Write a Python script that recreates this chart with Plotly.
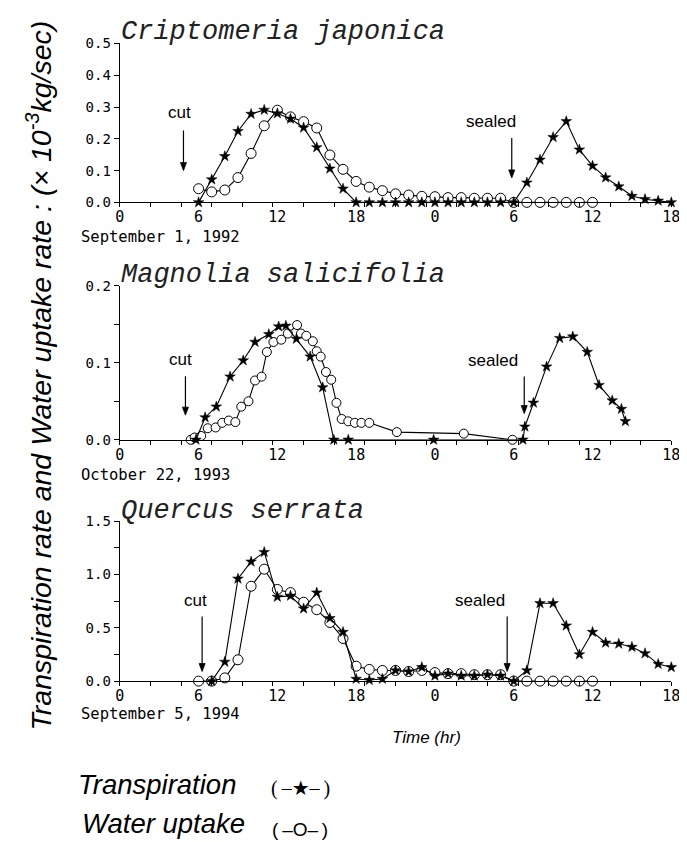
import plotly.graph_objects as go

W, H = 687, 842

# ---------------- data ----------------
# Panel 1: Criptomeria japonica (September 1, 1992)
p1_trans_hr = [6, 7, 8, 9, 10, 11, 12, 13, 14, 15, 16, 17, 18,
               19, 20, 21, 22, 23, 24, 25, 26, 27, 28, 29, 30,
               31, 32, 33, 34, 35, 36, 37, 38, 39, 40, 41, 42]
p1_trans = [0.0, 0.072, 0.145, 0.224, 0.278, 0.291, 0.280, 0.263, 0.235, 0.173, 0.106, 0.043, 0.0,
            0.0, 0.0, 0.0, 0.0, 0.0, 0.0, 0.0, 0.0, 0.0, 0.0, 0.0, 0.0,
            0.062, 0.134, 0.205, 0.255, 0.166, 0.115, 0.078, 0.050, 0.020, 0.010, 0.005, 0.0]
p1_up_hr = [6, 7, 8, 9, 10, 11, 12, 13, 14, 15, 16, 17, 18,
            19, 20, 21, 22, 23, 24, 25, 26, 27, 28, 29,
            30, 31, 32, 33, 34, 35, 36]
p1_up = [0.043, 0.033, 0.039, 0.078, 0.154, 0.241, 0.290, 0.269, 0.254, 0.234, 0.149, 0.104, 0.066,
         0.048, 0.037, 0.027, 0.023, 0.019, 0.018, 0.015, 0.015, 0.013, 0.013, 0.013,
         0.0, 0.0, 0.0, 0.0, 0.0, 0.0, 0.0]

# Panel 2: Magnolia salicifolia (October 22, 1993)
p2_trans_hr = [5.8, 6.5, 7.35, 8.4, 9.4, 10.3, 11.35, 12.1, 12.65, 13.45, 14.5, 15.45, 16.3, 17.4,
               23.9, 30.7, 30.85, 31.5, 32.5, 33.5, 34.5, 35.6, 36.5, 37.5, 38.2, 38.5]
p2_trans = [0.0, 0.029, 0.043, 0.082, 0.103, 0.127, 0.137, 0.147, 0.148, 0.131, 0.108, 0.068, 0.0, 0.0,
            0.0, 0.0, 0.017, 0.048, 0.095, 0.132, 0.134, 0.114, 0.071, 0.051, 0.040, 0.024]
p2_up_hr = [5.4, 5.7, 6.2, 6.7, 7.3, 7.8, 8.3, 8.8, 9.25, 9.8,
            10.3, 10.8, 11.2, 11.7, 12.3, 12.8, 13.5, 13.8, 14.2, 14.7,
            15.0, 15.3, 15.7, 16.1, 16.5, 16.9, 17.4, 17.9, 18.4, 19.0,
            21.1, 26.2, 29.9]
p2_up = [0.0, 0.003, 0.005, 0.015, 0.016, 0.022, 0.025, 0.023, 0.043, 0.050,
         0.077, 0.082, 0.114, 0.127, 0.130, 0.138, 0.149, 0.138, 0.135, 0.128,
         0.115, 0.108, 0.088, 0.078, 0.048, 0.027, 0.024, 0.022, 0.022, 0.022,
         0.010, 0.008, 0.0]

# Panel 3: Quercus serrata (September 5, 1994)
p3_trans_hr = [7, 8, 9, 10, 11, 12, 13, 14, 15, 16, 17, 18,
               19, 20, 21, 22, 23, 24, 25, 26, 27, 28, 29, 30,
               31, 32, 33, 34, 35, 36, 37, 38, 39, 40, 41, 42]
p3_trans = [0.0, 0.18, 0.96, 1.12, 1.21, 0.79, 0.80, 0.68, 0.83, 0.59, 0.46, 0.02,
            0.01, 0.02, 0.10, 0.09, 0.13, 0.05, 0.07, 0.05, 0.05, 0.06, 0.05, 0.0,
            0.10, 0.73, 0.73, 0.52, 0.25, 0.46, 0.36, 0.35, 0.32, 0.26, 0.16, 0.13]
p3_up_hr = [6, 7, 8, 9, 10, 11, 12, 13, 14, 15, 16, 17, 18,
            19, 20, 21, 22, 23, 24, 25, 26, 27, 28, 29,
            30, 31, 32, 33, 34, 35, 36]
p3_up = [0.0, 0.0, 0.03, 0.20, 0.89, 1.05, 0.86, 0.83, 0.74, 0.67, 0.55, 0.40, 0.14,
         0.11, 0.10, 0.10, 0.09, 0.10, 0.08, 0.07, 0.07, 0.06, 0.06, 0.06,
         0.0, 0.0, 0.0, 0.0, 0.0, 0.0, 0.0]

x_tick_vals = [0, 6, 12, 18, 24, 30, 36, 42]
x_tick_text = ["0", "6", "12", "18", "0", "6", "12", "18"]

species = ["Criptomeria japonica", "Magnolia salicifolia", "Quercus serrata"]
dates = ["September 1, 1992", "October 22, 1993", "September 5, 1994"]
y_ranges = [[0, 0.5], [0, 0.2], [0, 1.5]]
y_ticks = [[0.0, 0.1, 0.2, 0.3, 0.4, 0.5], [0.0, 0.1, 0.2], [0.0, 0.5, 1.0, 1.5]]
y_minor = [[], [0.05, 0.15], [0.25, 0.75, 1.25]]

# ---------------- layout helpers ----------------
def px_x(p):
    return p / W

def px_y(p):
    return 1 - p / H

X0, X1 = 109, 672
panel_px = [(28, 190), (275, 432), (515, 678)]   # (top, bottom) in pixels

MONO = "DejaVu Sans Mono, Liberation Mono, monospace"
SANS = "Liberation Sans, Arial, sans-serif"

fig = go.Figure()

series = [
    (p1_trans_hr, p1_trans, p1_up_hr, p1_up),
    (p2_trans_hr, p2_trans, p2_up_hr, p2_up),
    (p3_trans_hr, p3_trans, p3_up_hr, p3_up),
]
circle_sizes = [10, 9, 10]

minor_x = [i * 7 / 3 for i in range(19)]

for i, (th, tv, uh, uv) in enumerate(series):
    xa = "x" if i == 0 else f"x{i+1}"
    ya = "y" if i == 0 else f"y{i+1}"
    fig.add_trace(go.Scatter(
        x=uh, y=uv, xaxis=xa, yaxis=ya, mode="lines+markers",
        line=dict(color="black", width=1.1),
        marker=dict(symbol="circle", size=circle_sizes[i], color="white",
                    line=dict(color="black", width=1)),
        cliponaxis=False, showlegend=False, name="Water uptake"))
    fig.add_trace(go.Scatter(
        x=th, y=tv, xaxis=xa, yaxis=ya, mode="lines+markers",
        line=dict(color="black", width=1.1),
        marker=dict(symbol="star", size=8, color="black",
                    line=dict(color="black", width=0.5)),
        cliponaxis=False, showlegend=False, name="Transpiration"))

layout = dict(
    width=W, height=H, margin=dict(l=0, r=0, t=0, b=0),
    paper_bgcolor="white", plot_bgcolor="white", showlegend=False,
)

for i in range(3):
    top, bot = panel_px[i]
    xk = "xaxis" if i == 0 else f"xaxis{i+1}"
    yk = "yaxis" if i == 0 else f"yaxis{i+1}"
    ya = "y" if i == 0 else f"y{i+1}"
    xa = "x" if i == 0 else f"x{i+1}"
    layout[xk] = dict(
        domain=[px_x(X0), px_x(X1)], anchor=ya, range=[0, 42],
        showline=True, linecolor="black", linewidth=1.2, showgrid=False, zeroline=False,
        tickmode="array", tickvals=x_tick_vals, ticktext=x_tick_text, ticks="",
        ticklabelstandoff=1,
        tickfont=dict(family=MONO, size=15, color="black"),
        minor=dict(tickmode="array", tickvals=minor_x, ticks="outside", ticklen=4,
                   tickcolor="black", tickwidth=1),
    )
    layout[yk] = dict(
        domain=[px_y(bot), px_y(top)], anchor=xa, range=y_ranges[i],
        showline=True, linecolor="black", linewidth=1.2, showgrid=False, zeroline=False,
        tickmode="array", tickvals=y_ticks[i], tickformat=".1f",
        ticks="outside", ticklen=5, tickcolor="black", tickwidth=1,
        tickfont=dict(family=MONO, size=14, color="black"),
        minor=dict(tickmode="array", tickvals=y_minor[i], ticks="outside", ticklen=5,
                   tickcolor="black", tickwidth=1),
    )

ann = []
shapes = []
# species titles (baseline level with the top tick) and dates
title_base_px = [34, 281, 522]
date_center_px = [225, 468, 712]
for i in range(3):
    ann.append(dict(text=species[i], xref="paper", yref="paper",
                    x=px_x(108), y=px_y(title_base_px[i]), xanchor="left", yanchor="bottom",
                    showarrow=False,
                    font=dict(family="Liberation Mono, Courier New, monospace", size=27,
                              color="#222", style="italic")))
    ann.append(dict(text=dates[i], xref="paper", yref="paper",
                    x=px_x(67), y=px_y(date_center_px[i]), xanchor="left", yanchor="middle",
                    showarrow=False, font=dict(family=MONO, size=15.5, color="black")))

# cut / sealed labels and arrows: (label, text_x, text_y, head_x, head_y, shaft_length_px)
marks = [
    [("cut", 4.55, 0.284, 4.85, 0.100, 40), ("sealed", 28.3, 0.256, 29.85, 0.077, 40)],
    [("cut", 4.6, 0.104, 5.0, 0.032, 39), ("sealed", 28.4, 0.103, 30.8, 0.034, 37)],
    [("cut", 5.8, 0.76, 6.27, 0.09, 55), ("sealed", 27.4, 0.76, 29.5, 0.09, 55)],
]
for i in range(3):
    xa = "x" if i == 0 else f"x{i+1}"
    ya = "y" if i == 0 else f"y{i+1}"
    for (lab, tx, ty, hx, hy, off) in marks[i]:
        ann.append(dict(text=lab, xref=xa, yref=ya, x=tx, y=ty, showarrow=False,
                        xanchor="center", yanchor="middle",
                        font=dict(family=SANS, size=17, color="black")))
        # shaft
        shapes.append(dict(type="line", xref=xa, yref=ya, xsizemode="pixel", ysizemode="pixel",
                           xanchor=hx, yanchor=hy, x0=0, x1=0, y0=6, y1=off,
                           line=dict(color="black", width=1.2)))
        # arrow head
        shapes.append(dict(type="path", xref=xa, yref=ya, xsizemode="pixel", ysizemode="pixel",
                           xanchor=hx, yanchor=hy, path="M -3 8 L 3 8 L 0 0 Z",
                           fillcolor="black", line=dict(color="black", width=0.8)))

# y axis title
ann.append(dict(text="Transpiration rate and Water uptake rate : (\u00d7 10<sup>-3</sup>kg/sec)",
                xref="paper", yref="paper", x=px_x(27), y=px_y(366),
                xanchor="center", yanchor="middle", textangle=-90, showarrow=False,
                font=dict(family=SANS, size=28.5, color="black", style="italic")))

# x axis title
ann.append(dict(text="Time (hr)", xref="paper", yref="paper", x=px_x(385), y=px_y(735),
                xanchor="left", yanchor="middle", showarrow=False,
                font=dict(family=SANS, size=17, color="black", style="italic")))

# legend
ann.append(dict(text="Transpiration", xref="paper", yref="paper", x=px_x(64), y=px_y(783),
                xanchor="left", yanchor="middle", showarrow=False,
                font=dict(family=SANS, size=27.5, color="black", style="italic")))
ann.append(dict(text="Water uptake", xref="paper", yref="paper", x=px_x(68), y=px_y(823),
                xanchor="left", yanchor="middle", showarrow=False,
                font=dict(family=SANS, size=27.5, color="black", style="italic")))
ann.append(dict(text="(\u2009\u2013\u2605\u2013\u2009)", xref="paper", yref="paper",
                x=px_x(293), y=px_y(787),
                xanchor="center", yanchor="middle", showarrow=False,
                font=dict(family="Liberation Serif, DejaVu Sans, serif", size=20, color="black")))
ann.append(dict(text="(\u2009\u2013O\u2013\u2009)", xref="paper", yref="paper",
                x=px_x(293), y=px_y(829),
                xanchor="center", yanchor="middle", showarrow=False,
                font=dict(family="Liberation Sans, DejaVu Sans, sans-serif", size=19, color="black")))

fig.update_layout(**layout)
fig.update_layout(annotations=ann, shapes=shapes)
fig.write_html("out.html")
